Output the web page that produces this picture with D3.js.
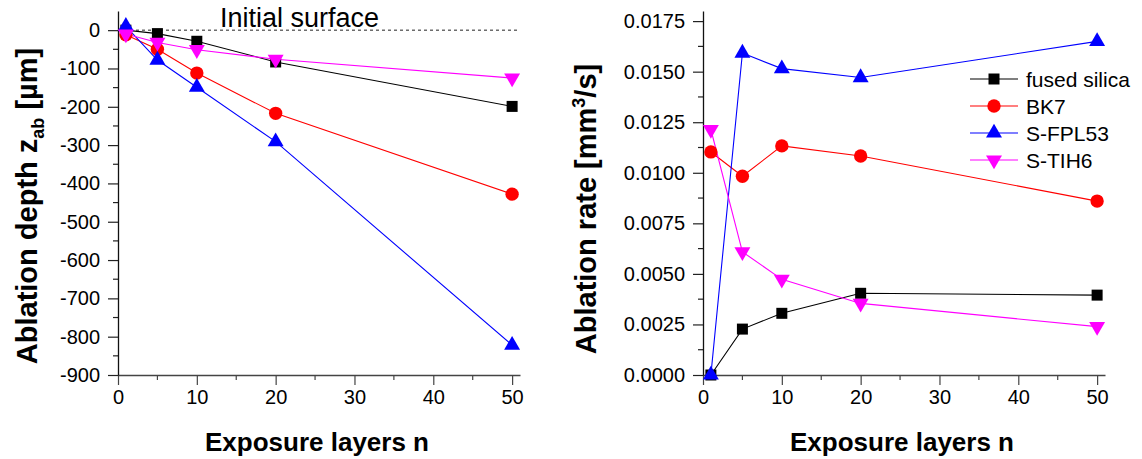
<!doctype html>
<html lang="en">
<head>
<meta charset="UTF-8">
<title>Ablation depth and rate</title>
<script src="https://d3js.org/d3.v7.min.js"></script>
<style>
  html, body { margin: 0; padding: 0; background: #fff; }
  svg { display: block; font-family: "Liberation Sans", Arial, sans-serif; }
</style>
</head>
<body>
<svg id="chart" width="1142" height="459"></svg>
<script>
// ---- data ---- //
const layers = [1, 5, 10, 20, 50];
const materials = ["fused silica", "BK7", "S-FPL53", "S-TIH6"];
const colors = ["#000000", "#ff0000", "#0000ff", "#ff00ff"];
const symbols = ["square", "circle", "triangleUp", "triangleDown"];

// ablation depth [µm]
const depthFused = [0, -9, -29, -83, -199];
const depthBK7 = [-12, -50, -112, -217, -428];
const depthFPL53 = [10, -78, -149, -291, -822];
const depthTIH6 = [-10, -32, -51, -76, -125];

// ablation rate [mm³/s]
const rateFused = [0.0000, 0.00227, 0.00305, 0.00404, 0.00395];
const rateBK7 = [0.01103, 0.00983, 0.01133, 0.01083, 0.0086];
const rateFPL53 = [0.0000, 0.01592, 0.01515, 0.01471, 0.0165];
const rateTIH6 = [0.01214, 0.00609, 0.00473, 0.00354, 0.00239];

const xTicks = [0, 10, 20, 30, 40, 50];
const depthTicks = [-900, -800, -700, -600, -500, -400, -300, -200, -100, 0];
const rateTicks = [0, 0.0025, 0.005, 0.0075, 0.01, 0.0125, 0.015, 0.0175];

const svg = d3.select("#chart");

function markerPath(kind) {
    if (kind === "square") return d3.symbol(d3.symbolSquare, 121)();
    if (kind === "circle") return d3.symbol(d3.symbolCircle, 140)();
    return d3.symbol(d3.symbolTriangle, 110)();
}

function drawMarker(g, kind, x, y, color) {
    g.append("path")
        .attr("d", markerPath(kind))
        .attr("transform", `translate(${x},${y})` + (kind === "triangleDown" ? " rotate(180)" : ""))
        .attr("fill", color);
}

function drawPanel(opts) {
    const g = svg.append("g");
    const x = d3.scaleLinear().domain([0, 51]).range(opts.xRange);
    const y = d3.scaleLinear().domain(opts.yDomain).range([375, 11]);

    // minor ticks
    const xMinor = d3.range(5, 51, 10);
    g.selectAll(".xminor").data(xMinor).enter().append("line")
        .attr("x1", d => x(d)).attr("x2", d => x(d))
        .attr("y1", 375).attr("y2", 380)
        .attr("stroke", "#444").attr("stroke-width", 1.2);
    g.selectAll(".yminor").data(opts.yMinor).enter().append("line")
        .attr("x1", opts.xRange[0] - 5).attr("x2", opts.xRange[0])
        .attr("y1", d => y(d)).attr("y2", d => y(d))
        .attr("stroke", "#222").attr("stroke-width", 1.2);

    // axes
    const xAxis = d3.axisBottom(x).tickValues(xTicks).tickSize(10).tickPadding(5).tickSizeOuter(0);
    const gx = g.append("g").attr("transform", "translate(0,375)").call(xAxis);
    gx.select(".domain").attr("stroke", "#444").attr("stroke-width", 1.5);
    gx.selectAll(".tick line").attr("stroke", "#444").attr("stroke-width", 1.2);
    gx.selectAll(".tick text").attr("font-size", 20).attr("fill", "#000")
        .attr("font-family", "Liberation Sans, Arial, sans-serif");

    const yAxis = d3.axisLeft(y).tickValues(opts.yTicks).tickFormat(opts.yFormat)
        .tickSize(10).tickPadding(8).tickSizeOuter(0);
    const gy = g.append("g").attr("transform", `translate(${opts.xRange[0]},0)`).call(yAxis);
    gy.select(".domain").attr("stroke", "#111").attr("stroke-width", 1.3);
    gy.selectAll(".tick line").attr("stroke", "#222").attr("stroke-width", 1.2);
    gy.selectAll(".tick text").attr("font-size", 20).attr("fill", "#000")
        .attr("font-family", "Liberation Sans, Arial, sans-serif");

    if (opts.extra) opts.extra(g, x, y);

    // series
    const line = d3.line().x((d, i) => x(layers[i])).y(d => y(d));
    opts.series.forEach((s, k) => {
        g.append("path").datum(s)
            .attr("d", line)
            .attr("fill", "none")
            .attr("stroke", colors[k])
            .attr("stroke-width", 1.1);
    });
    opts.series.forEach((s, k) => {
        s.forEach((v, i) => drawMarker(g, symbols[k], x(layers[i]), y(v), colors[k]));
    });

    // axis titles
    g.append("text")
        .attr("x", (opts.xRange[0] + opts.xRange[1]) / 2 - 2)
        .attr("y", 451)
        .attr("text-anchor", "middle")
        .attr("font-size", 26).attr("font-weight", "bold")
        .text("Exposure layers n");

    const yt = g.append("text")
        .attr("transform", `translate(${opts.yTitleX},${opts.yTitleY}) rotate(-90)`)
        .attr("text-anchor", "middle")
        .attr("font-size", 29).attr("font-weight", "bold");
    opts.yTitle(yt);
    return { x, y, g };
}

// left panel: ablation depth
drawPanel({
    xRange: [118, 520],
    yDomain: [-900, 50],
    yTicks: depthTicks,
    yMinor: d3.range(-850, 0, 100),
    yFormat: d => d3.format("d")(d).replace("−", "-"),
    series: [depthFused, depthBK7, depthFPL53, depthTIH6],
    yTitleX: 37,
    yTitleY: 206,
    yTitle: t => {
        t.append("tspan").text("Ablation depth z");
        t.append("tspan").attr("font-size", 18).attr("dy", 7).text("ab");
        t.append("tspan").attr("dy", -7).text(" [µm]");
    },
    extra: (g, x, y) => {
        g.append("line")
            .attr("x1", x(0)).attr("x2", x(51))
            .attr("y1", y(0)).attr("y2", y(0))
            .attr("stroke", "#222").attr("stroke-width", 1)
            .attr("stroke-dasharray", "3,3");
        g.append("text")
            .attr("x", 220).attr("y", 27)
            .attr("font-size", 27)
            .text("Initial surface");
    }
});

// right panel: ablation rate
drawPanel({
    xRange: [703, 1105],
    yDomain: [0, 0.018],
    yTicks: rateTicks,
    yMinor: d3.range(0.00125, 0.018, 0.0025),
    yFormat: d3.format(".4f"),
    series: [rateFused, rateBK7, rateFPL53, rateTIH6],
    yTitleX: 596,
    yTitleY: 209,
    yTitle: t => {
        t.append("tspan").text("Ablation rate [mm");
        t.append("tspan").attr("font-size", 18).attr("dy", -11).text("3");
        t.append("tspan").attr("dy", 11).text("/s]");
    }
});

// legend
const legend = svg.append("g").attr("transform", "translate(970,79)");
materials.forEach((m, k) => {
    const row = legend.append("g").attr("transform", `translate(0,${k * 27})`);
    row.append("line").attr("x1", 0).attr("x2", 48).attr("y1", 0).attr("y2", 0)
        .attr("stroke", colors[k]).attr("stroke-width", 1.1);
    drawMarker(row, symbols[k], 24, 0, colors[k]);
    row.append("text").attr("x", 56).attr("y", 7.5).attr("font-size", 21).text(m);
});
</script>
</body>
</html>
